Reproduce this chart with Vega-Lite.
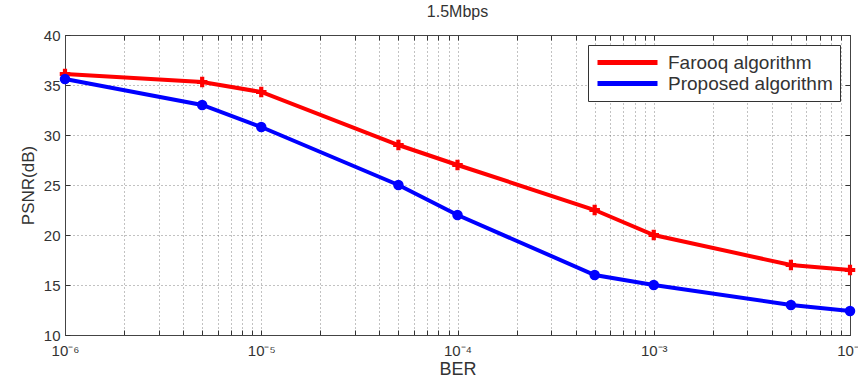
{
  "$schema": "https://vega.github.io/schema/vega-lite/v6.json",
  "autosize": {"type": "none"},
  "width": 785,
  "height": 300,
  "padding": {"left": 65, "top": 35, "right": 8, "bottom": 50},
  "background": "white",
  "title": {"text": "1.5Mbps", "fontSize": 16, "font": "Liberation Sans", "fontWeight": "normal", "color": "#333", "offset": 8},
  "config": {
    "view": {"stroke": "#444", "strokeWidth": 1},
    "font": "Liberation Sans",
    "legend": {
      "orient": "top-right", "offset": 10,
      "title": null,
      "strokeColor": "#333", "fillColor": "white", "padding": 7,
      "labelFontSize": 19, "labelColor": "#333", "labelLimit": 300, "labelOffset": 8,
      "symbolType": "stroke", "symbolSize": 3600, "symbolStrokeWidth": 5, "rowPadding": 0, "clipHeight": 21
    }
  },
  "data": {"values": [
    {"ber": 1e-6, "psnr": 36.1, "series": "Farooq algorithm"},
    {"ber": 5e-6, "psnr": 35.3, "series": "Farooq algorithm"},
    {"ber": 1e-5, "psnr": 34.3, "series": "Farooq algorithm"},
    {"ber": 5e-5, "psnr": 29.0, "series": "Farooq algorithm"},
    {"ber": 1e-4, "psnr": 27.0, "series": "Farooq algorithm"},
    {"ber": 5e-4, "psnr": 22.5, "series": "Farooq algorithm"},
    {"ber": 1e-3, "psnr": 20.0, "series": "Farooq algorithm"},
    {"ber": 5e-3, "psnr": 17.0, "series": "Farooq algorithm"},
    {"ber": 1e-2, "psnr": 16.5, "series": "Farooq algorithm"},
    {"ber": 1e-6, "psnr": 35.6, "series": "Proposed algorithm"},
    {"ber": 5e-6, "psnr": 33.0, "series": "Proposed algorithm"},
    {"ber": 1e-5, "psnr": 30.8, "series": "Proposed algorithm"},
    {"ber": 5e-5, "psnr": 25.0, "series": "Proposed algorithm"},
    {"ber": 1e-4, "psnr": 22.0, "series": "Proposed algorithm"},
    {"ber": 5e-4, "psnr": 16.0, "series": "Proposed algorithm"},
    {"ber": 1e-3, "psnr": 15.0, "series": "Proposed algorithm"},
    {"ber": 5e-3, "psnr": 13.0, "series": "Proposed algorithm"},
    {"ber": 1e-2, "psnr": 12.4, "series": "Proposed algorithm"}
  ]},
  "encoding": {
    "x": {"field": "ber", "type": "quantitative", "scale": {"type": "log", "domain": [1e-6, 1e-2], "nice": false}},
    "y": {"field": "psnr", "type": "quantitative", "scale": {"domain": [10, 40], "nice": false}},
    "color": {"field": "series", "type": "nominal", "title": null, "legend": {"symbolType": "stroke"}, "scale": {"domain": ["Farooq algorithm", "Proposed algorithm"], "range": ["#ff0000", "#0000ff"]}}
  },
  "layer": [
    {
      "mark": {"type": "line", "strokeWidth": 4},
      "encoding": {
        "x": {"field": "ber", "type": "quantitative", "title": "BER",
          "axis": {
            "orient": "bottom",
            "values": [1e-6,2e-6,3e-6,4e-6,5e-6,6e-6,7e-6,8e-6,9e-6,1e-5,2e-5,3e-5,4e-5,5e-5,6e-5,7e-5,8e-5,9e-5,1e-4,2e-4,3e-4,4e-4,5e-4,6e-4,7e-4,8e-4,9e-4,1e-3,2e-3,3e-3,4e-3,5e-3,6e-3,7e-3,8e-3,9e-3,1e-2],
            "labelExpr": "datum.value == 1e-6 ? '10⁻⁶' : datum.value == 1e-5 ? '10⁻⁵' : datum.value == 1e-4 ? '10⁻⁴' : datum.value == 1e-3 ? '10⁻³' : datum.value == 1e-2 ? '10⁻²' : ''",
            "grid": true, "gridDash": [1, 3], "gridColor": "#666", "gridOpacity": 0.8,
            "tickSize": -5, "tickColor": "#333", "domainColor": "#444",
            "labelPadding": 13, "labelFontSize": 15, "labelColor": "#333", "labelFlush": false, "labelOverlap": false,
            "titleFontSize": 18, "titleFontWeight": "normal", "titleColor": "#333", "titlePadding": 2
          }},
        "y": {"field": "psnr", "type": "quantitative", "title": "PSNR(dB)",
          "axis": {
            "orient": "left",
            "values": [10, 15, 20, 25, 30, 35, 40],
            "grid": true, "gridDash": [1, 3], "gridColor": "#666", "gridOpacity": 0.8,
            "tickSize": -5, "tickColor": "#333", "domainColor": "#444",
            "labelPadding": 10, "labelFontSize": 15, "labelColor": "#333",
            "titleFontSize": 17, "titleFontWeight": "normal", "titleColor": "#333", "titlePadding": 6
          }}
      }
    },
    {
      "transform": [{"filter": "datum.series == 'Farooq algorithm'"}],
      "mark": {"type": "point", "shape": "cross", "filled": true, "opacity": 1, "size": 110},
      "encoding": {
        "x": {"field": "ber", "type": "quantitative",
          "axis": {"orient": "top", "values": [1e-6,2e-6,3e-6,4e-6,5e-6,6e-6,7e-6,8e-6,9e-6,1e-5,2e-5,3e-5,4e-5,5e-5,6e-5,7e-5,8e-5,9e-5,1e-4,2e-4,3e-4,4e-4,5e-4,6e-4,7e-4,8e-4,9e-4,1e-3,2e-3,3e-3,4e-3,5e-3,6e-3,7e-3,8e-3,9e-3,1e-2], "labels": false, "title": null, "grid": false, "tickSize": -5, "tickColor": "#333", "domainColor": "#444"}},
        "y": {"field": "psnr", "type": "quantitative",
          "axis": {"orient": "right", "values": [10, 15, 20, 25, 30, 35, 40], "labels": false, "title": null, "grid": false, "tickSize": -5, "tickColor": "#333", "domainColor": "#444"}}
      }
    },
    {
      "transform": [{"filter": "datum.series == 'Proposed algorithm'"}],
      "mark": {"type": "point", "shape": "circle", "filled": true, "opacity": 1, "size": 110},
      "encoding": {
        "x": {"field": "ber", "type": "quantitative", "axis": null},
        "y": {"field": "psnr", "type": "quantitative", "axis": null}
      }
    }
  ],
  "resolve": {"axis": {"x": "independent", "y": "independent"}}
}
